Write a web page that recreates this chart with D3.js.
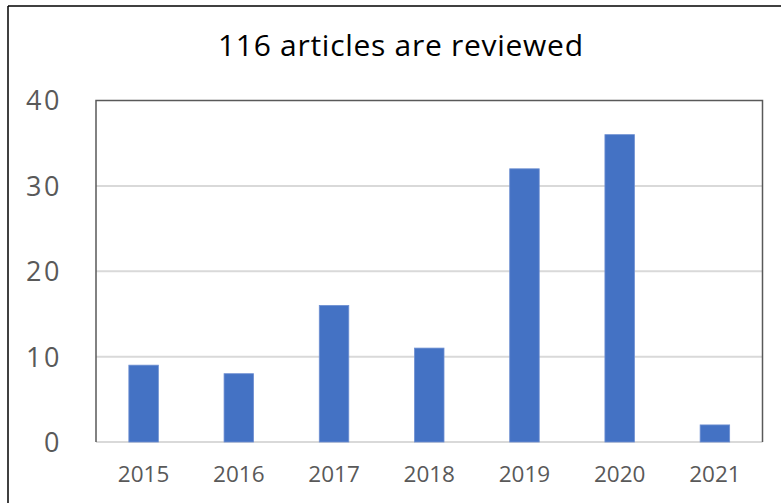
<!DOCTYPE html>
<html>
<head>
<meta charset="utf-8">
<script src="https://cdn.jsdelivr.net/npm/d3@7"></script>
<style>
  html, body { margin: 0; padding: 0; background: #fff; }
  svg { display: block; }
</style>
</head>
<body>
<svg id="chart" width="781" height="503"></svg>
<script>
// Articles reviewed per publication year
const years = ["2015", "2016", "2017", "2018", "2019", "2020", "2021"];
const articles = [9, 8, 16, 11, 32, 36, 2];
const yTicks = [0, 10, 20, 30, 40];
const titleText = "116 articles are reviewed";

const svg = d3.select("#chart");
const W = 781, H = 503;
const plot = { left: 96, right: 762.5, top: 100.5, bottom: 442 };

// Outer frame (left and top edges visible)
svg.append("line").attr("x1", 8).attr("x2", 8).attr("y1", 6).attr("y2", H)
  .attr("stroke", "#000").attr("stroke-width", 1.5);
svg.append("line").attr("x1", 8).attr("x2", W).attr("y1", 6).attr("y2", 6)
  .attr("stroke", "#000").attr("stroke-width", 1.5);

const x = d3.scaleBand().domain(years).range([plot.left, plot.right])
  .paddingInner(0.69).paddingOuter(0.345);
const y = d3.scaleLinear().domain([0, 40]).range([plot.bottom, plot.top]);

// Horizontal gridlines
svg.append("g").selectAll("line").data(yTicks.filter(d => d > 0 && d < 40)).join("line")
  .attr("x1", plot.left).attr("x2", plot.right)
  .attr("y1", d => y(d)).attr("y2", d => y(d))
  .attr("stroke", "#d9d9d9").attr("stroke-width", 2);

// Baseline
svg.append("line").attr("x1", plot.left).attr("x2", plot.right)
  .attr("y1", y(0)).attr("y2", y(0))
  .attr("stroke", "#d9d9d9").attr("stroke-width", 2);

// Plot area border: left, top, right
svg.append("path")
  .attr("d", `M${plot.left},${y(0)} V${plot.top} H${plot.right} V${y(0)}`)
  .attr("fill", "none").attr("stroke", "#595959").attr("stroke-width", 1.5);

// Bars
svg.append("g").selectAll("rect").data(years).join("rect")
  .attr("x", d => x(d))
  .attr("width", x.bandwidth())
  .attr("y", (d, i) => y(articles[i]))
  .attr("height", (d, i) => y(0) - y(articles[i]))
  .attr("fill", "#4472C4")
  .attr("stroke", "#6f90d2")
  .attr("stroke-width", 0.8);

// Y axis labels
const yAxis = d3.axisLeft(y).tickValues(yTicks).tickSize(0).tickPadding(0);
const gy = svg.append("g").attr("transform", "translate(62,0)").call(yAxis);
gy.select(".domain").remove();
gy.selectAll("text")
  .attr("font-family", "'Open Sans', sans-serif")
  .attr("font-size", 27)
  .attr("letter-spacing", 2.5)
  .attr("fill", "#595959")
  .attr("dy", "0.35em");

// X axis labels
const xAxis = d3.axisBottom(x).tickSize(0).tickPadding(0);
const gx = svg.append("g").attr("transform", "translate(0,474)").call(xAxis);
gx.select(".domain").remove();
gx.selectAll("text")
  .attr("font-family", "'Open Sans', sans-serif")
  .attr("font-size", 22.5)
  .attr("fill", "#595959")
  .attr("dy", "0.35em");

// Title
svg.append("text")
  .attr("x", 400.5).attr("y", 56)
  .attr("text-anchor", "middle")
  .attr("font-family", "'Open Sans', sans-serif")
  .attr("font-size", 30)
  .attr("textLength", 365)
  .attr("lengthAdjust", "spacing")
  .attr("fill", "#000")
  .text(titleText);
</script>
</body>
</html>
